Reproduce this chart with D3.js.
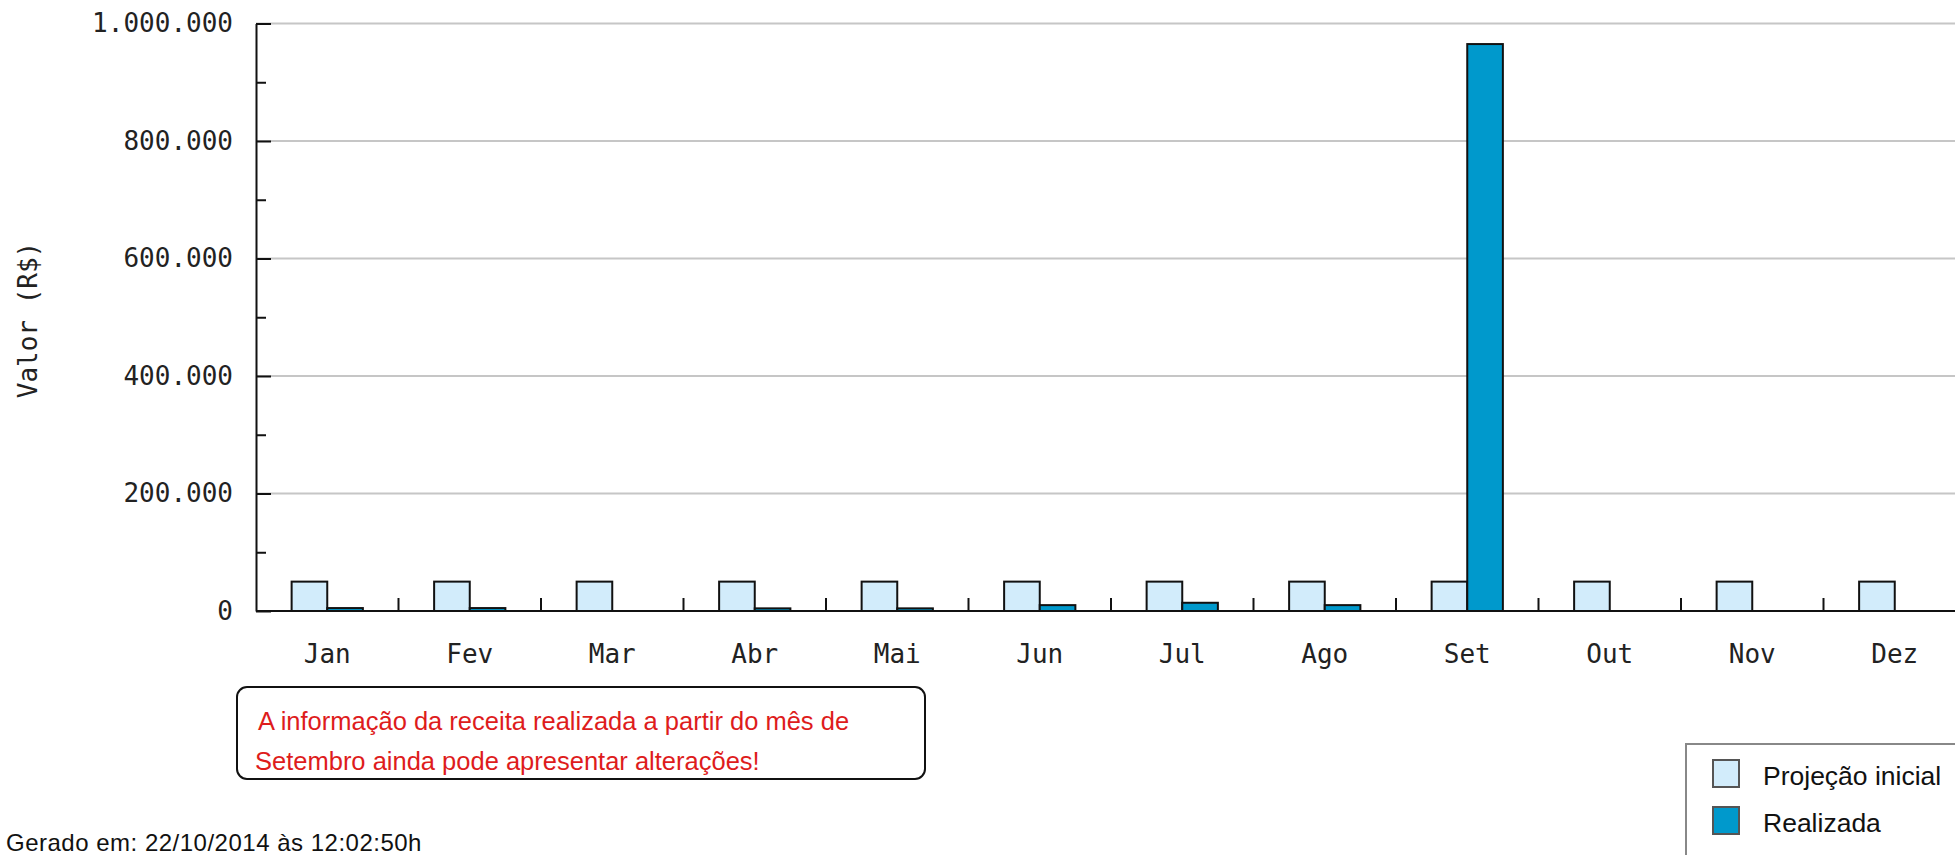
<!DOCTYPE html>
<html>
<head>
<meta charset="utf-8">
<script src="https://cdn.jsdelivr.net/npm/d3@7"></script>
<style>
  html, body { margin: 0; padding: 0; background: #fff; overflow: hidden; }
  svg { display: block; }
  .mono { font-family: "DejaVu Sans Mono", monospace; font-size: 26px; fill: #222; }
  .sans { font-family: "Liberation Sans", Arial, sans-serif; }
</style>
</head>
<body>
<div id="container"><svg></svg></div>
<script>
// dados
const months = ["Jan", "Fev", "Mar", "Abr", "Mai", "Jun", "Jul", "Ago", "Set", "Out", "Nov", "Dez"];
const seriesNames = ["Projeção inicial", "Realizada"];
const projecao = [50000, 50000, 50000, 50000, 50000, 50000, 50000, 50000, 50000, 50000, 50000, 50000];
const realizada = [5000, 5000, 0, 4500, 4500, 10000, 14000, 10000, 965000, 0, 0, 0];
const yTicks = [0, 200000, 400000, 600000, 800000, 1000000];
const yMinorTicks = [100000, 300000, 500000, 700000, 900000];
const noteLines = ["A informação da receita realizada a partir do mês de", "Setembro ainda pode apresentar alterações!"];
const footer = "Gerado em: 22/10/2014 às 12:02:50h";

const colors = ['#d2ecfb', '#0099cc'];

let width = 1955;
let height = 855;

function draw_main() {
    let svg = d3.select('#container').select('svg')
        .attr('width', width)
        .attr('height', height);

    let left = 256, top = 23.5, bottom = 611;
    let step = 142.5;

    let locale = d3.formatLocale({decimal: ',', thousands: '.', grouping: [3], currency: ['R$', '']});
    let fmt = locale.format(',d');

    let y = d3.scaleLinear()
        .domain([0, 1000000])
        .range([bottom, top]);

    let x = d3.scaleBand()
        .domain(months)
        .range([left, left + step * months.length])
        .padding(0);

    let xs = d3.scaleBand()
        .domain(seriesNames)
        .range([x.bandwidth() / 4, x.bandwidth() * 3 / 4]);

    // grid
    svg.append('g')
        .selectAll('line')
        .data(yTicks.filter(d => d > 0))
        .enter()
        .append('line')
        .attr('x1', left)
        .attr('x2', width)
        .attr('y1', d => y(d))
        .attr('y2', d => y(d))
        .attr('stroke', '#c6c6c6')
        .attr('stroke-width', 2);

    // bars
    let table = months.map((m, i) => ({month: m, values: [projecao[i], realizada[i]]}));
    table.forEach(row => {
        svg.append('g')
            .attr('transform', `translate(${x(row.month)}, 0)`)
            .selectAll('rect')
            .data(row.values.map((v, j) => ({name: seriesNames[j], value: v, j: j})).filter(d => d.value > 0))
            .enter()
            .append('rect')
            .attr('x', d => xs(d.name))
            .attr('y', d => y(d.value))
            .attr('width', xs.bandwidth())
            .attr('height', d => bottom - y(d.value))
            .attr('fill', d => colors[d.j])
            .attr('stroke', '#111')
            .attr('stroke-width', 2);
    });

    // y axis
    let axis_y = d3.axisLeft(y)
        .tickValues(yTicks)
        .tickSizeInner(-15)
        .tickSizeOuter(0)
        .tickPadding(23)
        .tickFormat(fmt);
    let gy = svg.append('g')
        .attr('transform', `translate(${left}, 0)`)
        .call(axis_y);
    gy.select('.domain').attr('stroke', '#111').attr('stroke-width', 2);
    gy.selectAll('.tick line').attr('stroke', '#111').attr('stroke-width', 2);
    gy.selectAll('text').attr('class', 'mono').attr('font-family', null).attr('font-size', null);

    let gy2 = svg.append('g')
        .attr('transform', `translate(${left}, 0)`)
        .call(d3.axisLeft(y).tickValues(yMinorTicks).tickSizeInner(-10).tickSizeOuter(0).tickFormat(''));
    gy2.select('.domain').remove();
    gy2.selectAll('.tick line').attr('stroke', '#111').attr('stroke-width', 2);

    svg.append('text')
        .attr('class', 'mono')
        .attr('transform', `translate(37, 320) rotate(-90)`)
        .attr('text-anchor', 'middle')
        .text('Valor (R$)');

    // x axis
    svg.append('line')
        .attr('x1', left)
        .attr('x2', width)
        .attr('y1', bottom)
        .attr('y2', bottom)
        .attr('stroke', '#111')
        .attr('stroke-width', 2);

    svg.append('g')
        .selectAll('line')
        .data(months.slice(0, -1))
        .enter()
        .append('line')
        .attr('x1', d => x(d) + x.bandwidth())
        .attr('x2', d => x(d) + x.bandwidth())
        .attr('y1', bottom)
        .attr('y2', bottom - 13)
        .attr('stroke', '#111')
        .attr('stroke-width', 2);

    let gx = svg.append('g')
        .attr('transform', `translate(0, ${bottom})`)
        .call(d3.axisBottom(x).tickSize(0));
    gx.select('.domain').remove();
    gx.selectAll('text')
        .attr('class', 'mono')
        .attr('font-family', null)
        .attr('font-size', null)
        .attr('dy', null)
        .attr('y', 52);

    // nota
    svg.append('rect')
        .attr('x', 237)
        .attr('y', 687)
        .attr('width', 688)
        .attr('height', 92)
        .attr('rx', 10)
        .attr('fill', '#fff')
        .attr('stroke', '#111')
        .attr('stroke-width', 2);
    svg.append('g')
        .selectAll('text')
        .data(noteLines)
        .enter()
        .append('text')
        .attr('class', 'sans')
        .attr('x', (d, i) => i == 0 ? 258 : 255)
        .attr('y', (d, i) => 730 + i * 40)
        .attr('font-size', '25.5px')
        .attr('fill', '#de1c1c')
        .text(d => d);

    // legenda
    svg.append('rect')
        .attr('x', 1686)
        .attr('y', 744)
        .attr('width', 400)
        .attr('height', 200)
        .attr('fill', '#fff')
        .attr('stroke', '#888')
        .attr('stroke-width', 2);
    let lg = svg.append('g')
        .selectAll('g')
        .data(seriesNames)
        .enter()
        .append('g')
        .attr('transform', (d, i) => `translate(1713, ${760 + i * 47})`);
    lg.append('rect')
        .attr('width', 26)
        .attr('height', 27)
        .attr('fill', (d, i) => colors[i])
        .attr('stroke', '#555')
        .attr('stroke-width', 2);
    lg.append('text')
        .attr('class', 'sans')
        .attr('x', 50)
        .attr('y', 25)
        .attr('font-size', '26.5px')
        .attr('fill', '#111')
        .text(d => d);

    // rodape
    svg.append('text')
        .attr('class', 'sans')
        .attr('x', 6)
        .attr('y', 851)
        .attr('font-size', '24px')
        .attr('letter-spacing', '0.5px')
        .attr('fill', '#111')
        .text(footer);
}

draw_main();
</script>
</body>
</html>
